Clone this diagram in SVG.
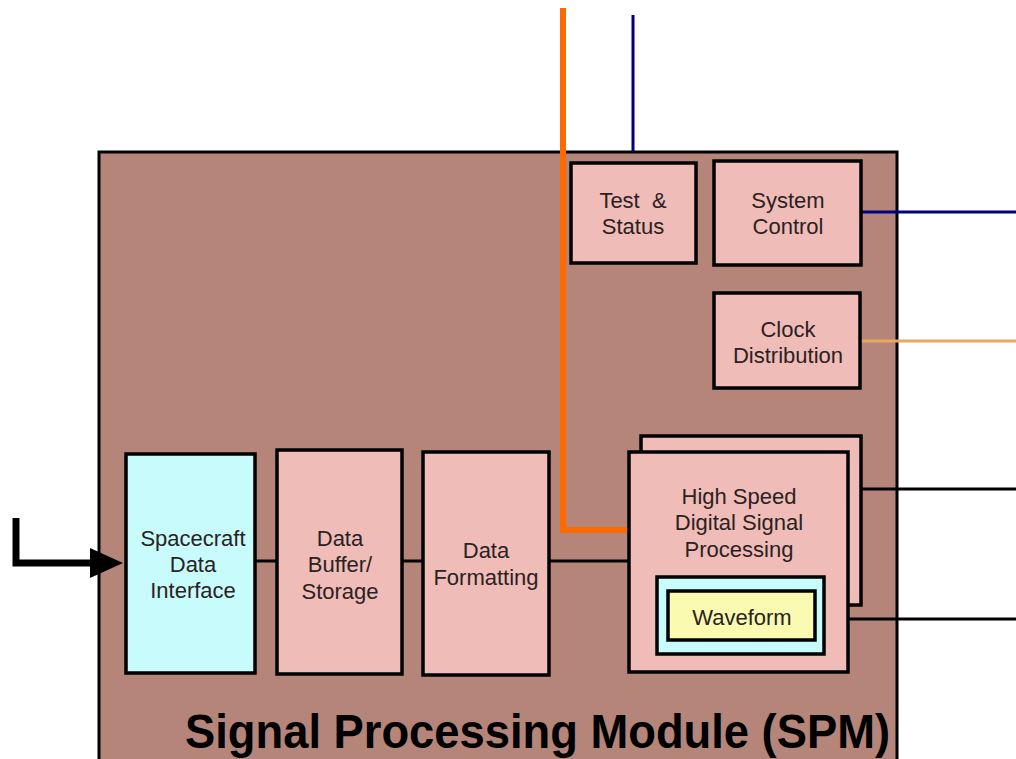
<svg xmlns="http://www.w3.org/2000/svg" width="1016" height="759" viewBox="0 0 1016 759">
<style>
.box{fill:#f0bcb8;stroke:#000;stroke-width:3.5}
.t{font-family:"Liberation Sans",Arial,sans-serif;font-size:22px;fill:#2a2222;text-anchor:middle}
.title{font-family:"Liberation Sans",Arial,sans-serif;font-size:48px;font-weight:bold;fill:#000}
.blk{stroke:#000;stroke-width:3;fill:none}
</style>
<rect width="1016" height="759" fill="#fff"/>
<g id="spm">
<rect x="99" y="152" width="798" height="620" fill="#b5857a" stroke="#000" stroke-width="3"/>
<text class="title" x="185" y="748" textLength="705" lengthAdjust="spacingAndGlyphs">Signal Processing Module (SPM)</text>
</g>
<g id="connectors">
<line x1="633" y1="15" x2="633" y2="152" stroke="#000080" stroke-width="3"/>
<polyline points="563,8 563,530 630,530" fill="none" stroke="#ff6a00" stroke-width="6"/>
<line x1="861" y1="212" x2="1016" y2="212" stroke="#000080" stroke-width="3"/>
<line x1="860" y1="341" x2="1016" y2="341" stroke="#e8a860" stroke-width="3"/>
<line class="blk" x1="255" y1="561" x2="277" y2="561"/>
<line class="blk" x1="402" y1="561" x2="423" y2="561"/>
<line class="blk" x1="549" y1="561" x2="629" y2="561"/>
<line class="blk" x1="848" y1="489" x2="1016" y2="489"/>
<line class="blk" x1="848" y1="619" x2="1016" y2="619"/>
<polyline points="16,518 16,563 92,563" fill="none" stroke="#000" stroke-width="7"/>
<polygon points="90,548 123,563 90,578" fill="#000"/>
</g>
<g id="test-status">
<rect class="box" x="571" y="163" width="125" height="100"/>
<text class="t" x="633" y="208" xml:space="preserve">Test  &amp;</text>
<text class="t" x="633" y="234">Status</text>
</g>
<g id="system-control">
<rect class="box" x="714" y="161" width="147" height="104"/>
<text class="t" x="788" y="208">System</text>
<text class="t" x="788" y="234">Control</text>
</g>
<g id="clock-distribution">
<rect class="box" x="714" y="293" width="146" height="95"/>
<text class="t" x="788" y="337">Clock</text>
<text class="t" x="788" y="363">Distribution</text>
</g>
<g id="spacecraft-data-interface">
<rect x="126" y="454" width="129" height="219" fill="#c8fcfc" stroke="#000" stroke-width="3.5"/>
<text class="t" x="193" y="546">Spacecraft</text>
<text class="t" x="193" y="572">Data</text>
<text class="t" x="193" y="598">Interface</text>
</g>
<g id="data-buffer-storage">
<rect class="box" x="277" y="450" width="125" height="224"/>
<text class="t" x="340" y="546">Data</text>
<text class="t" x="340" y="572">Buffer/</text>
<text class="t" x="340" y="599">Storage</text>
</g>
<g id="data-formatting">
<rect class="box" x="423" y="452" width="126" height="223"/>
<text class="t" x="486" y="558">Data</text>
<text class="t" x="486" y="585">Formatting</text>
</g>
<g id="hsdsp">
<rect class="box" x="641" y="436" width="220" height="169"/>
<rect class="box" x="629" y="452" width="219" height="220"/>
<text class="t" x="739" y="504">High Speed</text>
<text class="t" x="739" y="530">Digital Signal</text>
<text class="t" x="739" y="557">Processing</text>
</g>
<g id="waveform">
<rect x="657" y="577" width="167" height="77" fill="#c8fcfc" stroke="#000" stroke-width="3.5"/>
<rect x="668" y="591" width="147" height="49" fill="#fafab0" stroke="#000" stroke-width="3.5"/>
<text class="t" x="742" y="625">Waveform</text>
</g>
</svg>
